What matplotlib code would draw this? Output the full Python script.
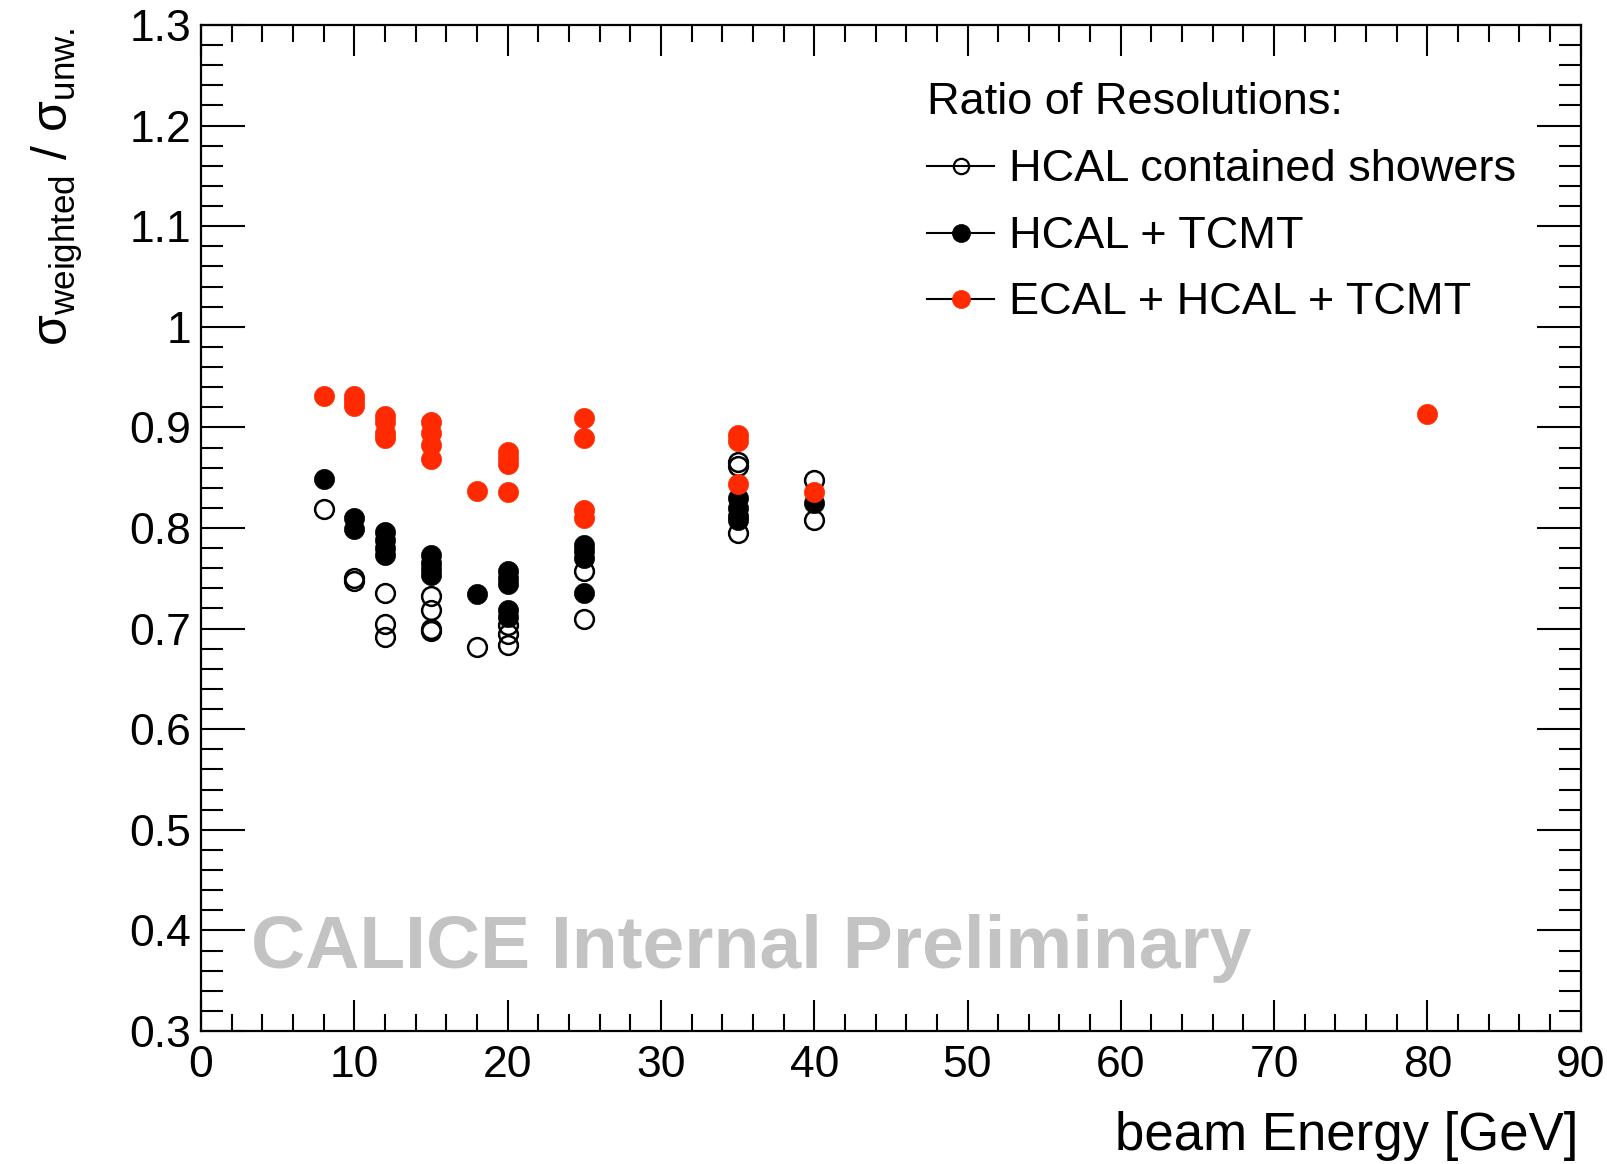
import matplotlib
matplotlib.use("Agg")
import matplotlib.pyplot as plt
from matplotlib.lines import Line2D
from matplotlib.ticker import MultipleLocator, FuncFormatter

plt.rcParams['font.family'] = ['Liberation Sans', 'DejaVu Sans']
plt.rcParams['mathtext.fontset'] = 'custom'
plt.rcParams['mathtext.rm'] = 'Liberation Sans'
plt.rcParams['mathtext.it'] = 'Liberation Sans:italic'

# ---- data ----
open_x = [8, 10, 10, 12, 12, 12, 15, 15, 15, 15, 18, 20, 20, 20, 25, 25,
          35, 35, 35, 40, 40]
open_y = [0.819, 0.750, 0.747, 0.735, 0.705, 0.692, 0.732, 0.718, 0.700, 0.698,
          0.682, 0.704, 0.695, 0.684, 0.757, 0.710, 0.866, 0.862, 0.795,
          0.848, 0.808]

black_x = [8, 10, 10, 12, 12, 12, 12, 15, 15, 15, 15, 18, 20, 20, 20, 20, 20,
           25, 25, 25, 25, 35, 35, 35, 35, 40]
black_y = [0.849, 0.810, 0.799, 0.796, 0.788, 0.780, 0.773, 0.773, 0.765, 0.759,
           0.753, 0.734, 0.757, 0.750, 0.744, 0.718, 0.712, 0.783, 0.777, 0.770,
           0.735, 0.830, 0.820, 0.812, 0.808, 0.825]

red_x = [8, 10, 10, 10, 12, 12, 12, 12, 15, 15, 15, 15, 18, 20, 20, 20, 20,
         25, 25, 25, 25, 35, 35, 35, 40, 80]
red_y = [0.931, 0.931, 0.926, 0.921, 0.911, 0.905, 0.894, 0.889, 0.905, 0.894,
         0.883, 0.869, 0.837, 0.876, 0.870, 0.864, 0.836, 0.909, 0.889, 0.818,
         0.810, 0.892, 0.886, 0.844, 0.836, 0.913]

legend_title = "Ratio of Resolutions:"
legend_labels = ["HCAL contained showers", "HCAL + TCMT", "ECAL + HCAL + TCMT"]
watermark = "CALICE Internal Preliminary"
xlabel = "beam Energy [GeV]"
ylabel = r"σ$_{\mathrm{weighted}}$ / σ$_{\mathrm{unw.}}$"

RED = '#ff2a00'
W, H = 1607, 1164

fig = plt.figure(figsize=(W / 100, H / 100), dpi=100)
ax = fig.add_axes([201 / W, 1 - 1031 / H, (1580.7 - 201) / W, (1031 - 25) / H])

ms = 13.5
ax.plot(open_x, open_y, 'o', ls='none', ms=ms, mfc='none', mec='black', mew=1.8, zorder=3)
ax.plot(black_x, black_y, 'o', ls='none', ms=ms + 1, mfc='black', mec='black', mew=0.5, zorder=2)
ax.plot(red_x, red_y, 'o', ls='none', ms=ms + 1, mfc=RED, mec=RED, mew=0.5, zorder=4)

ax.set_xlim(0, 90)
ax.set_ylim(0.3, 1.3)
ax.xaxis.set_major_locator(MultipleLocator(10))
ax.xaxis.set_minor_locator(MultipleLocator(2))
ax.yaxis.set_major_locator(MultipleLocator(0.1))
ax.yaxis.set_minor_locator(MultipleLocator(0.02))
ax.yaxis.set_major_formatter(FuncFormatter(lambda v, p: ('%g' % round(v, 3))))

for s in ax.spines.values():
    s.set_linewidth(1.6)

ax.tick_params(axis='both', which='both', direction='in', top=True, right=True,
               width=1.5, labelsize=32)
ax.tick_params(axis='y', which='major', length=32, pad=7)
ax.tick_params(axis='y', which='minor', length=16)
ax.tick_params(axis='x', which='major', length=22, pad=10)
ax.tick_params(axis='x', which='minor', length=12)

# axis titles
fig.text(1578 / W, 1 - 1150 / H, xlabel, ha='right', va='baseline', fontsize=38)
fig.text(57 / W, 1 - 27 / H, ylabel, ha='center', va='top', rotation=90, fontsize=36)

# watermark
ax.text(251 / W, 1 - 968 / H, watermark, transform=fig.transFigure, ha='left',
        va='baseline', fontsize=54, fontweight='bold', color='#c3c3c3', zorder=1)

# legend
fig.text(927 / W, 1 - 103 / H, legend_title, ha='left', va='center', fontsize=32.5)
rows_y = [166, 232.7, 299.3]
styles = [dict(mfc='none', mec='black', mew=1.6, ms=11),
          dict(mfc='black', mec='black', mew=0.5, ms=13),
          dict(mfc=RED, mec=RED, mew=0.5, ms=13)]
for yy, lab, st in zip(rows_y, legend_labels, styles):
    yf = 1 - yy / H
    fig.add_artist(Line2D([927 / W, 994 / W], [yf, yf], color='black', lw=1.5,
                          transform=fig.transFigure))
    fig.add_artist(Line2D([961 / W], [yf], marker='o', ls='none',
                          transform=fig.transFigure, **st))
    fig.text(1009 / W, 1 - (yy + 3.5) / H, lab, ha='left', va='center', fontsize=32.5)

fig.savefig('out.png', dpi=100)
